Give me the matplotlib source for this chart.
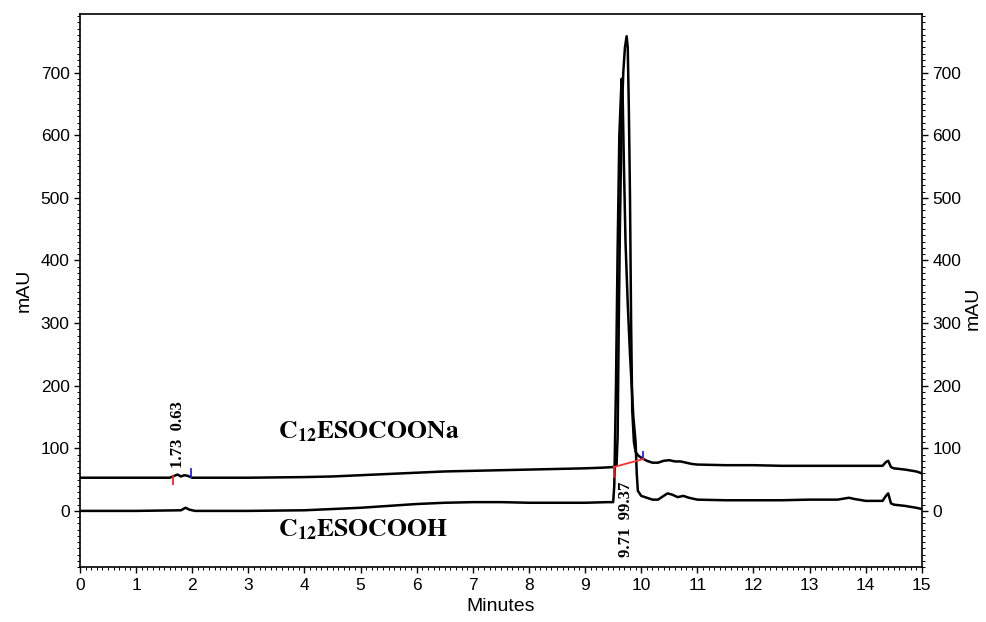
import matplotlib
matplotlib.use("Agg")
import matplotlib.pyplot as plt
from matplotlib.ticker import MultipleLocator

plt.rcParams.update({
    'font.family': ['Liberation Sans', 'DejaVu Sans'],
    'mathtext.fontset': 'stix',
    'axes.linewidth': 1.2,
})

# ── Data ───────────────────────────────────────────────────────────
# upper trace: C12ESOCOONa
na_t = [0, 1.0, 1.6, 1.68, 1.74, 1.8, 1.86, 1.92, 2.0, 2.5, 3, 4, 4.5, 5, 5.5, 6,
        6.5, 7, 7.5, 8, 8.5, 9, 9.3, 9.5, 9.56, 9.58, 9.6, 9.62, 9.65, 9.68, 9.71,
        9.74, 9.76, 9.78, 9.8, 9.82, 9.84, 9.87, 9.9, 9.95, 10.0, 10.1, 10.2, 10.3,
        10.4, 10.5, 10.6, 10.7, 10.8, 10.9, 11.0, 11.5, 12, 12.5, 13, 13.5, 14,
        14.3, 14.36, 14.4, 14.45, 14.5, 14.7, 14.9, 15]
na_v = [53, 53, 53, 56, 58, 55, 57, 56, 53, 53, 53, 54, 55, 57, 59, 61,
        63, 64, 65, 66, 67, 68, 69, 70, 72, 120, 300, 450, 620, 700, 740,
        758, 740, 640, 500, 300, 160, 110, 94, 88, 85, 80, 77, 77,
        80, 81, 79, 79, 77, 75, 74, 73, 73, 72, 72, 72, 72,
        72, 78, 80, 70, 68, 66, 63, 60]

# lower trace: C12ESOCOOH
h_t = [0, 1.0, 1.8, 1.88, 1.95, 2.05, 3, 4, 4.5, 5, 5.5, 6, 6.5, 7, 7.5, 8, 8.5,
       9, 9.4, 9.5, 9.52, 9.55, 9.58, 9.61, 9.65, 9.67, 9.69, 9.72, 9.76, 9.8,
       9.86, 9.9, 9.92, 9.94, 10.0, 10.1, 10.2, 10.3, 10.4, 10.47, 10.55, 10.65,
       10.75, 10.85, 11.0, 11.5, 12, 12.5, 13, 13.5, 13.7, 13.8, 14, 14.3, 14.36,
       14.4, 14.45, 14.5, 14.7, 14.9, 15]
h_v = [0, 0, 1, 5, 2, 0, 0, 1, 3, 5, 8, 11, 13, 14, 14, 13, 13,
       13, 14, 14, 40, 200, 420, 600, 690, 660, 560, 430, 330, 250,
       150, 110, 60, 32, 24, 21, 18, 18, 24, 28, 26, 22,
       24, 21, 18, 17, 17, 17, 18, 18, 21, 19, 16, 16, 24,
       28, 12, 10, 8, 5, 3]

# integration marks (time, low, high)
red_ticks = [(1.65, 43, 55), (9.51, 54, 70)]
blue_ticks = [(1.97, 54, 67), (10.04, 83, 94)]
red_baseline = ([9.51, 10.04], [70, 83])

peak_labels = [(1.75, 69, "1.73  0.63"), (9.72, -73, "9.71  99.37")]
trace_names = [(3.53, 126, r"$\mathbf{C_{12}ESOCOONa}$"),
               (3.53, -30, r"$\mathbf{C_{12}ESOCOOH}$")]

# ── Figure ─────────────────────────────────────────────────────────
fig = plt.figure(figsize=(9.87, 6.22), dpi=100)
ax = fig.add_axes([0.081, 0.088, 0.853, 0.889])

ax.plot(na_t, na_v, color='black', lw=1.8, solid_joinstyle='round')
ax.plot(h_t, h_v, color='black', lw=1.8, solid_joinstyle='round')

for t, lo, hi in red_ticks:
    ax.plot([t, t], [lo, hi], color='#ff2020', lw=1.3)
for t, lo, hi in blue_ticks:
    ax.plot([t, t], [lo, hi], color='#2020ff', lw=1.3)
ax.plot(*red_baseline, color='#ff3030', lw=1.3)

for t, v, s in peak_labels:
    ax.text(t, v, s, rotation=90, ha='center', va='bottom', fontsize=12,
            family='Liberation Serif', fontweight='bold')
for t, v, s in trace_names:
    ax.text(t, v, s, ha='left', va='center', fontsize=18.5)

ax.set_xlim(0, 15)
ax.set_ylim(-90, 793)
ax.xaxis.set_major_locator(MultipleLocator(1))
ax.xaxis.set_minor_locator(MultipleLocator(0.1))
ax.yaxis.set_major_locator(MultipleLocator(100))
ax.yaxis.set_minor_locator(MultipleLocator(10))
ax.set_yticks([0, 100, 200, 300, 400, 500, 600, 700])

ax.tick_params(axis='both', which='major', direction='out', length=4,
               width=1.0, labelsize=12.5)
ax.tick_params(axis='both', which='minor', direction='out', length=2, width=0.7)
ax.tick_params(axis='y', which='both', left=True, right=True,
               labelleft=True, labelright=True)
ax.tick_params(axis='x', which='both', top=False)

ax.set_xlabel("Minutes", fontsize=14, labelpad=4)
ax.set_ylabel("mAU", fontsize=14, labelpad=6)
fig.text(0.986, 0.505, "mAU", rotation=90, ha='center', va='center', fontsize=14)

fig.savefig("out.png", dpi=100)
